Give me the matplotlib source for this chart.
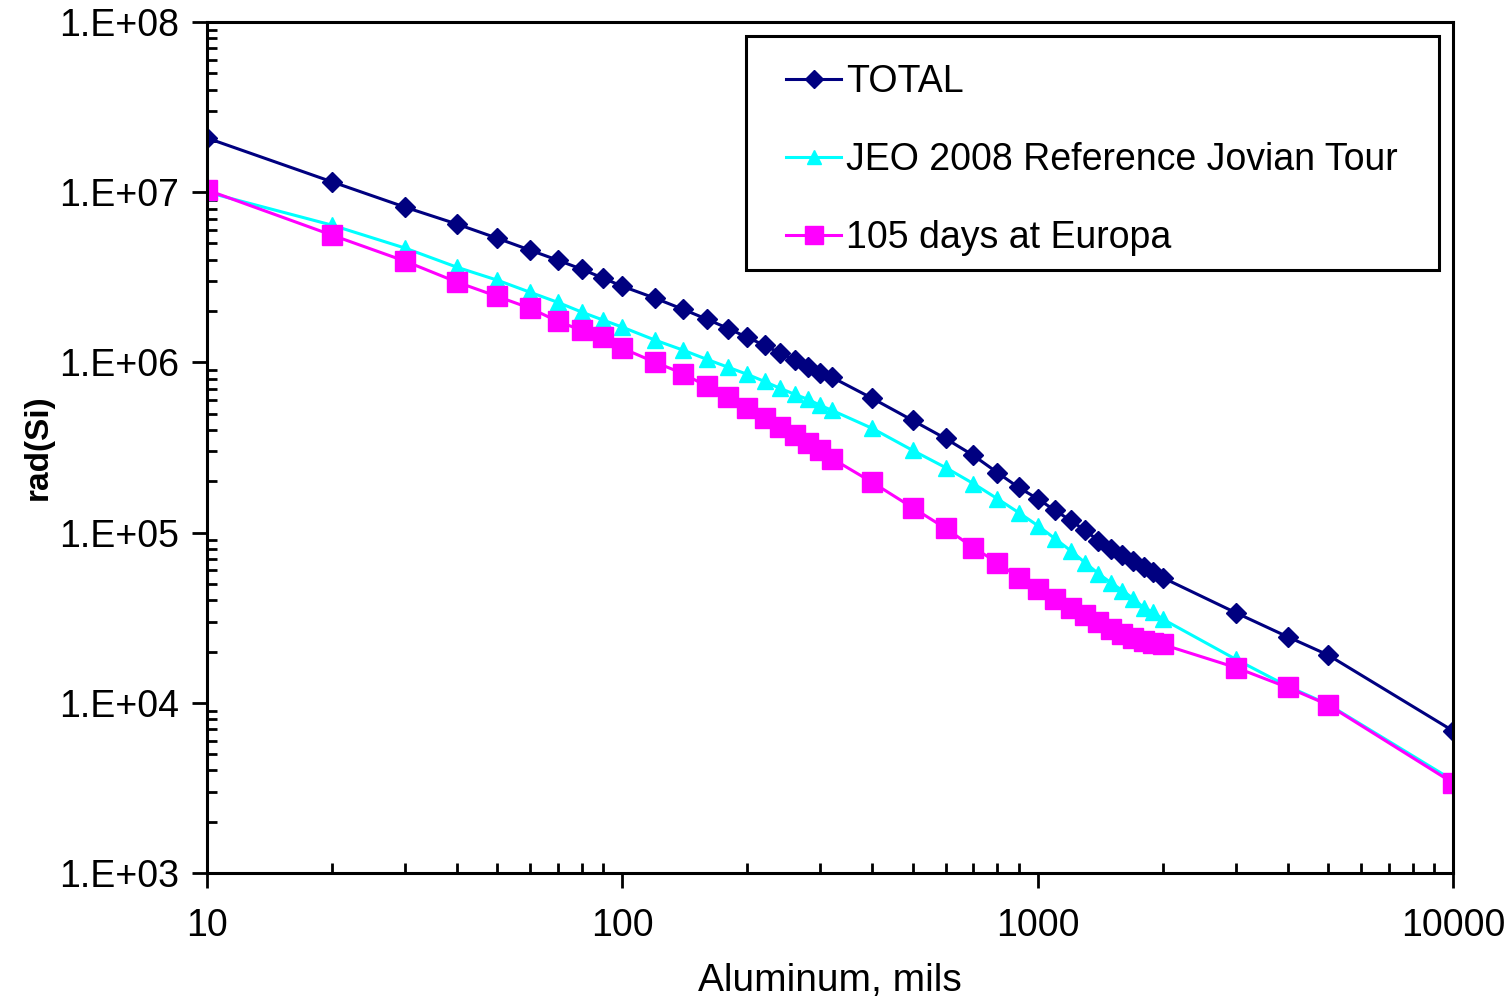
import numpy as np
import matplotlib
matplotlib.use('Agg')
import matplotlib.pyplot as plt
from matplotlib.patches import Rectangle
from matplotlib.ticker import FixedLocator, FuncFormatter, NullFormatter

plt.rcParams['font.family'] = ['Liberation Sans', 'DejaVu Sans']

# aluminum thickness, mils
mils = [10, 20, 30, 40, 50, 60, 70, 80, 90, 100,
        120, 140, 160, 180, 200, 220, 240, 260, 280, 300, 320,
        400, 500, 600, 700, 800, 900, 1000, 1100, 1200, 1300, 1400,
        1500, 1600, 1700, 1800, 1900, 2000, 3000, 4000, 5000, 10000]

total = [2.08e7, 1.15e7, 8.16e6, 6.49e6, 5.36e6, 4.56e6, 3.98e6, 3.52e6, 3.12e6, 2.80e6,
         2.38e6, 2.05e6, 1.79e6, 1.58e6, 1.40e6, 1.26e6, 1.13e6, 1.03e6, 9.35e5, 8.62e5, 8.16e5,
         6.14e5, 4.56e5, 3.57e5, 2.84e5, 2.25e5, 1.84e5, 1.58e5, 1.35e5, 1.18e5, 1.03e5, 8.98e4,
         8.05e4, 7.43e4, 6.84e4, 6.30e4, 5.90e4, 5.43e4, 3.38e4, 2.44e4, 1.91e4, 6.84e3]

jeo_tour = [1.0e7, 6.4e6, 4.69e6, 3.62e6, 3.04e6, 2.58e6, 2.25e6, 1.97e6, 1.77e6, 1.61e6,
            1.35e6, 1.18e6, 1.04e6, 9.35e5, 8.5e5, 7.72e5, 7.03e5, 6.49e5, 6.06e5, 5.58e5, 5.22e5,
            4.09e5, 3.04e5, 2.41e5, 1.94e5, 1.58e5, 1.31e5, 1.10e5, 9.22e4, 7.84e4, 6.66e4, 5.74e4,
            5.08e4, 4.56e4, 4.09e4, 3.62e4, 3.40e4, 3.10e4, 1.80e4, 1.25e4, 9.8e3, 3.5e3]

europa_105d = [1.03e7, 5.59e6, 3.93e6, 2.96e6, 2.44e6, 2.08e6, 1.74e6, 1.54e6, 1.40e6, 1.21e6,
               1.0e6, 8.6e5, 7.22e5, 6.22e5, 5.36e5, 4.69e5, 4.15e5, 3.72e5, 3.34e5, 3.04e5, 2.72e5,
               1.97e5, 1.40e5, 1.06e5, 8.16e4, 6.66e4, 5.43e4, 4.69e4, 4.09e4, 3.62e4, 3.27e4, 2.98e4,
               2.72e4, 2.54e4, 2.41e4, 2.31e4, 2.25e4, 2.20e4, 1.61e4, 1.23e4, 9.73e3, 3.38e3]

labels = ['TOTAL', 'JEO 2008 Reference Jovian Tour', '105 days at Europa']

fig = plt.figure(figsize=(15.11, 9.98), dpi=100)
ax = fig.add_axes([0.137, 0.1253, 0.8246, 0.8527])

ax.plot(mils, total, color='#000080', lw=2.2, marker='D', ms=10, label=labels[0])
ax.plot(mils, jeo_tour, color='#00FFFF', lw=2.2, marker='^', ms=11, label=labels[1])
ax.plot(mils, europa_105d, color='#FF00FF', lw=2.2, marker='s', ms=15, label=labels[2])

ax.set_xscale('log')
ax.set_yscale('log')
ax.set_xlim(10, 10000)
ax.set_ylim(1e3, 1e8)

for s in ax.spines.values():
    s.set_linewidth(2.2)

ax.xaxis.set_major_locator(FixedLocator([10, 100, 1000, 10000]))
ax.xaxis.set_major_formatter(FuncFormatter(lambda v, p: '%d' % v))
ax.xaxis.set_minor_locator(FixedLocator([m * d for d in (10, 100, 1000) for m in range(2, 10)]))
ax.xaxis.set_minor_formatter(NullFormatter())

ax.yaxis.set_major_locator(FixedLocator([1e3, 1e4, 1e5, 1e6, 1e7, 1e8]))
ax.yaxis.set_major_formatter(FuncFormatter(lambda v, p: '1.E+%02d' % round(np.log10(v))))
ax.yaxis.set_minor_locator(FixedLocator([m * 10.0 ** e for e in range(3, 8) for m in range(2, 10)]))
ax.yaxis.set_minor_formatter(NullFormatter())

ax.tick_params(which='major', direction='out', length=11, width=2, labelsize=27)
ax.tick_params(which='minor', direction='in', length=7, width=2)
ax.tick_params(axis='x', which='major', pad=14)
ax.tick_params(axis='y', which='major', pad=9)

ax.set_xlabel('Aluminum, mils', fontsize=28, labelpad=14)
ax.set_ylabel('rad(Si)', fontsize=24, fontweight='bold', labelpad=4)

leg = ax.legend(loc='upper right', bbox_to_anchor=(0.974, 0.977), borderaxespad=0,
                fontsize=27, frameon=False, handlelength=1.45, handletextpad=0.15,
                labelspacing=1.12, borderpad=0.6, markerscale=0.9)

# legend frame with wider side padding than top/bottom
fig.canvas.draw()
bb = leg.get_window_extent().transformed(ax.transAxes.inverted())
padx = 18 / ax.bbox.width
pad_top = 6 / ax.bbox.height
pad_bot = -9 / ax.bbox.height
ax.add_patch(Rectangle((bb.x0 - padx, bb.y0 - pad_bot), bb.width + 2 * padx,
                       bb.height + pad_top + pad_bot,
                       transform=ax.transAxes, fill=False, edgecolor='black',
                       lw=2.2, zorder=5, clip_on=False))

plt.savefig('out.png', dpi=100)
plt.close()
